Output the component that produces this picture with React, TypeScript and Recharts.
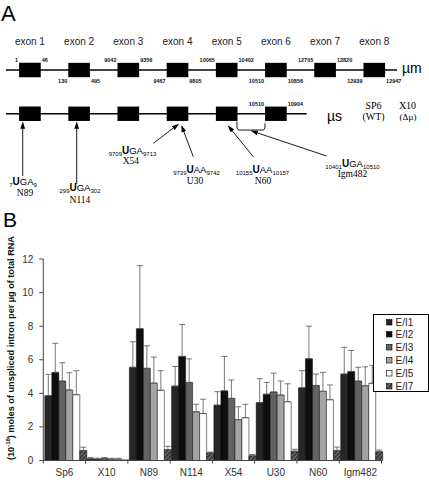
import React from 'react';
import {
  ComposedChart,
  BarChart,
  Bar,
  Line,
  Scatter,
  XAxis,
  YAxis,
  ReferenceLine,
  ReferenceArea,
  ErrorBar,
} from 'recharts';

const SANS = '"Liberation Sans", Arial, sans-serif';
const SERIF = '"Liberation Serif", "Times New Roman", serif';

// ---------- panel A: gene map ----------
const exonNames = ['exon 1', 'exon 2', 'exon 3', 'exon 4', 'exon 5', 'exon 6', 'exon 7', 'exon 8'];
const exonStarts = [1, 130, 9042, 9467, 10065, 10510, 12705, 12939];
const exonEnds = [46, 495, 9356, 9805, 10402, 10856, 12820, 12947];
const muExons = [1, 2, 3, 4, 5, 6, 7, 8];
const msExons = [1, 2, 3, 4, 5, 6];
const msExon6 = [10510, 10904];

const mutants = ['N89', 'N114', 'X54', 'U30', 'N60', 'Igm482'];
const codons = ['UGA', 'UGA', 'UGA', 'UAA', 'UAA', 'UGA'];
const codonFrom = ['7', '299', '9709', '9739', '10155', '10401'];
const codonTo = ['9', '302', '9713', '9742', '10157', '10510'];

// layout of the diagram, in exon-slot (x) / row (y) units
const EXON_HALF_W = 0.22;
const EXON_HALF_H = 0.166;
const LABEL_ROW = -0.573;
const NUM_TOP_ROW = -0.178;
const NUM_BOTTOM_ROW = 0.296;
const MS_NUM_ROW = 0.82;
const MS_ROW = 1.01;
const arrowTail = [[0.854, 2.448], [1.951, 2.633], [3.508, 1.693], [4.321, 2.002], [5.541, 2.002], [7.033, 1.986]];
const arrowHead = [[0.854, 1.212], [1.951, 1.212], [4.016, 1.254], [4.085, 1.293], [5.033, 1.293], [5.508, 1.409]];
const codonPos = [[0.86, 2.656], [2.018, 2.794], [3.085, 1.945], [4.386, 2.386], [5.728, 2.386], [7.557, 2.245]];
const namePos = [[0.9, 2.91], [2.018, 3.067], [3.051, 2.181], [4.356, 2.633], [5.738, 2.633], [7.557, 2.481]];
const bracket = [[5.209, 1.19], [5.209, 1.34], [5.24, 1.386], [5.75, 1.386], [5.778, 1.34], [5.778, 1.23]];

// ---------- panel B: bar chart ----------
const categories = ['Sp6', 'X10', 'N89', 'N114', 'X54', 'U30', 'N60', 'Igm482'];
const seriesNames = ['E/I1', 'E/I2', 'E/I3', 'E/I4', 'E/I5', 'E/I7'];
const ei1 = [3.86, 0.1, 5.55, 4.43, 3.3, 3.45, 4.33, 5.15];
const ei2 = [5.25, 0.08, 7.85, 6.2, 4.15, 3.95, 6.06, 5.3];
const ei3 = [4.73, 0.12, 5.49, 4.65, 3.7, 4.08, 4.47, 4.73];
const ei4 = [4.2, 0.08, 4.61, 2.9, 2.43, 3.9, 4.12, 4.45];
const ei5 = [3.92, 0.08, 4.18, 2.8, 2.55, 3.5, 3.62, 4.6];
const ei7 = [0.6, 0.02, 0.65, 0.45, 0.28, 0.55, 0.6, 0.52];
const ei1Err = [1.27, 0.08, 1.52, 1.17, 0.8, 1.42, 1.02, 1.59];
const ei2Err = [1.73, 0.06, 3.75, 1.9, 2.05, 0.7, 1.94, 1.25];
const ei3Err = [1.09, 0.06, 1.34, 1.4, 1.1, 1.12, 0.68, 0.82];
const ei4Err = [1.03, 0.05, 1.55, 0.45, 0.77, 0.83, 1.13, 1.13];
const ei5Err = [1.43, 0.05, 1.17, 0.85, 0.8, 1.07, 0.88, 1.07];
const ei7Err = [0.19, 0, 0.2, 0.05, 0.08, 0.12, 0.2, 0.1];
const yTicks = [0, 2, 4, 6, 8, 10, 12];

const seriesValues = [ei1, ei2, ei3, ei4, ei5, ei7];
const seriesErrors = [ei1Err, ei2Err, ei3Err, ei4Err, ei5Err, ei7Err];
const seriesFills = ['#262626', '#0e0e0e', '#626262', '#a4a4a4', '#ffffff', 'url(#hatch7)'];

const barRows = categories.map((name, i) => {
  const row: any = { name };
  seriesValues.forEach((vals, s) => {
    row[`s${s}`] = vals[i];
    row[`e${s}`] = [0, seriesErrors[s][i]];
  });
  return row;
});

const B_TOP = 225;
const B_HEIGHT = 482 - B_TOP;
const B_MARGIN = { top: 34, right: 47.5, bottom: 0, left: 0 };
const Y_AXIS_W = 43.3;
const BAND = (429 - B_MARGIN.right - Y_AXIS_W) / categories.length;

// scatter-backed text helpers
const exonLabelData = muExons.map((k, i) => ({ x: k, y: LABEL_ROW, label: exonNames[i] }));
const boundaryData = muExons.flatMap((k, i) => {
  const row = i % 2 === 0 ? NUM_TOP_ROW : NUM_BOTTOM_ROW;
  return [
    { x: k - EXON_HALF_W, y: row, label: String(exonStarts[i]), anchor: 'end' },
    { x: k + EXON_HALF_W, y: row, label: String(exonEnds[i]), anchor: 'start' },
  ];
}).concat([
  { x: 6 - EXON_HALF_W, y: MS_NUM_ROW, label: String(msExon6[0]), anchor: 'end' },
  { x: 6 + EXON_HALF_W, y: MS_NUM_ROW, label: String(msExon6[1]), anchor: 'start' },
]);
const codonData = mutants.map((m, i) => ({ x: codonPos[i][0], y: codonPos[i][1], i }));
const nameData = mutants.map((m, i) => ({ x: namePos[i][0], y: namePos[i][1], label: m }));
const sideData = [
  { x: 8.563, y: 0.069, label: 'µm', font: SANS, size: 14, anchor: 'start' },
  { x: 7.039, y: 1.178, label: 'µs', font: SANS, size: 14, anchor: 'start' },
  { x: 7.984, y: 0.889, label: 'SP6', font: SERIF, size: 10, anchor: 'middle' },
  { x: 7.984, y: 1.155, label: '(WT)', font: SERIF, size: 10, anchor: 'middle' },
  { x: 8.675, y: 0.889, label: 'X10', font: SERIF, size: 10, anchor: 'middle' },
  { x: 8.685, y: 1.165, label: '(Δµ)', font: SERIF, size: 9, anchor: 'middle' },
];

const ExonLabel = ({ cx, cy, payload }: any) => (
  <text x={cx} y={cy} textAnchor="middle" fontSize={10} fill="#222" fontFamily={SANS}>
    {payload.label}
  </text>
);

const BoundaryLabel = ({ cx, cy, payload }: any) => (
  <text
    x={cx + (payload.anchor === 'end' ? -1 : 1)}
    y={cy}
    textAnchor={payload.anchor}
    fontSize={5.5}
    fontWeight="bold"
    fill="#111"
    fontFamily={SANS}
  >
    {payload.label}
  </text>
);

const CodonLabel = ({ cx, cy, payload }: any) => {
  const i = payload.i;
  return (
    <text x={cx} y={cy} textAnchor="middle" fill="#000" fontFamily={SANS}>
      <tspan fontSize={6} dy={2}>{codonFrom[i]}</tspan>
      <tspan fontSize={10} fontWeight="bold" dy={-2}>{codons[i][0]}</tspan>
      <tspan fontSize={9.5}>{codons[i].slice(1)}</tspan>
      <tspan fontSize={6} dy={2}>{codonTo[i]}</tspan>
    </text>
  );
};

const NameLabel = ({ cx, cy, payload }: any) => (
  <text x={cx} y={cy} textAnchor="middle" fontSize={9.5} fill="#000" fontFamily={SERIF}>
    {payload.label}
  </text>
);

const SideLabel = ({ cx, cy, payload }: any) => (
  <text x={cx} y={cy} textAnchor={payload.anchor} fontSize={payload.size} fill="#000" fontFamily={payload.font}>
    {payload.label}
  </text>
);

const CategoryTick = ({ x, y, payload, index }: any) => (
  <g>
    <line x1={x - BAND / 2} x2={x - BAND / 2} y1={y} y2={y + 3} stroke="#444" />
    {index === categories.length - 1 && (
      <line x1={x + BAND / 2} x2={x + BAND / 2} y1={y} y2={y + 3} stroke="#444" />
    )}
    <text x={x} y={y + 15} textAnchor="middle" fontSize={10} fill="#333" fontFamily={SANS}>
      {payload.value}
    </text>
  </g>
);

const YTitle = () => (
  <text
    transform={`translate(11,${348 - B_TOP}) rotate(-90)`}
    textAnchor="middle"
    dominantBaseline="central"
    fontSize={9.2}
    fontWeight="bold"
    fill="#111"
    fontFamily={SANS}
    textLength={224}
    lengthAdjust="spacing"
  >
    (10<tspan fontSize={6} dy={-3}>-18</tspan>
    <tspan dy={3}>) moles of unspliced intron per µg of total RNA</tspan>
  </text>
);

export default function App() {
  return (
    <div
      style={{
        position: 'absolute',
        left: 0,
        top: 0,
        width: 429,
        height: 482,
        background: '#fff',
        overflow: 'hidden',
        fontFamily: SANS,
      }}
    >
      <svg width={0} height={0} style={{ position: 'absolute' }}>
        <defs>
          <pattern id="hatch7" patternUnits="userSpaceOnUse" width={3} height={3} patternTransform="rotate(45)">
            <rect width={3} height={3} fill="#3a3a3a" />
            <line x1={0} y1={0} x2={0} y2={3} stroke="#b4b4b4" strokeWidth={1} />
          </pattern>
          <marker
            id="arrowHead"
            viewBox="0 0 10 7"
            refX={9}
            refY={3.5}
            markerWidth={7}
            markerHeight={5}
            markerUnits="userSpaceOnUse"
            orient="auto"
          >
            <path d="M0,0 L10,3.5 L0,7 z" fill="#000" />
          </marker>
        </defs>
      </svg>

      <div style={{ position: 'absolute', left: 1, top: 3, fontSize: 22, lineHeight: '22px' }}>A</div>
      <div style={{ position: 'absolute', left: 3, top: 209, fontSize: 21, lineHeight: '21px' }}>B</div>

      {/* panel A */}
      <div style={{ position: 'absolute', left: 0, top: 0 }}>
        <ComposedChart width={429} height={215} margin={{ top: 0, right: 0, bottom: 0, left: 0 }} data={[]}>
          <XAxis type="number" dataKey="x" domain={[0.392, 9.112]} allowDataOverflow hide />
          <YAxis type="number" dataKey="y" domain={[-1.617, 3.348]} allowDataOverflow reversed hide />
          <ReferenceLine segment={[{ x: 0.514, y: 0 }, { x: 8.461, y: 0 }]} stroke="#000" strokeWidth={1.6} />
          <ReferenceLine segment={[{ x: 0.514, y: MS_ROW }, { x: 6.626, y: MS_ROW }]} stroke="#000" strokeWidth={1.6} />
          {muExons.map((k) => (
            <ReferenceArea
              key={`mu${k}`}
              x1={k - EXON_HALF_W}
              x2={k + EXON_HALF_W}
              y1={-EXON_HALF_H}
              y2={EXON_HALF_H}
              fill="#000"
              fillOpacity={1}
              stroke="none"
            />
          ))}
          {msExons.map((k) => (
            <ReferenceArea
              key={`ms${k}`}
              x1={k - EXON_HALF_W}
              x2={k + EXON_HALF_W}
              y1={MS_ROW - EXON_HALF_H}
              y2={MS_ROW + EXON_HALF_H}
              fill="#000"
              fillOpacity={1}
              stroke="none"
            />
          ))}
          <Line
            data={bracket.map(([x, y]) => ({ x, y }))}
            dataKey="y"
            type="linear"
            stroke="#000"
            strokeWidth={0.9}
            dot={false}
            activeDot={false}
            isAnimationActive={false}
          />
          {mutants.map((m, i) => (
            <Line
              key={m}
              data={[
                { x: arrowTail[i][0], y: arrowTail[i][1] },
                { x: arrowHead[i][0], y: arrowHead[i][1] },
              ]}
              dataKey="y"
              type="linear"
              stroke="#000"
              strokeWidth={0.9}
              markerEnd="url(#arrowHead)"
              dot={false}
              activeDot={false}
              isAnimationActive={false}
            />
          ))}
          <Scatter data={exonLabelData} shape={<ExonLabel />} isAnimationActive={false} />
          <Scatter data={boundaryData} shape={<BoundaryLabel />} isAnimationActive={false} />
          <Scatter data={codonData} shape={<CodonLabel />} isAnimationActive={false} />
          <Scatter data={nameData} shape={<NameLabel />} isAnimationActive={false} />
          <Scatter data={sideData} shape={<SideLabel />} isAnimationActive={false} />
        </ComposedChart>
      </div>

      {/* panel B */}
      <div style={{ position: 'absolute', left: 0, top: B_TOP }}>
        <BarChart width={429} height={B_HEIGHT} data={barRows} margin={B_MARGIN} barCategoryGap={1.5} barGap={0}>
          <XAxis
            dataKey="name"
            tick={<CategoryTick />}
            tickLine={false}
            tickSize={0}
            tickMargin={0}
            axisLine={{ stroke: '#444' }}
            height={B_HEIGHT - B_MARGIN.top - 201.5}
            interval={0}
          />
          <YAxis
            width={Y_AXIS_W}
            domain={[0, 12]}
            ticks={yTicks}
            tickSize={4}
            tickMargin={6}
            tick={{ fontSize: 10, fill: '#333', fontFamily: SANS }}
            tickLine={{ stroke: '#444' }}
            axisLine={{ stroke: '#444' }}
            label={<YTitle />}
          />
          {seriesNames.map((name, s) => (
            <Bar
              key={name}
              dataKey={`s${s}`}
              name={name}
              fill={seriesFills[s]}
              stroke="#000"
              strokeWidth={0.5}
              isAnimationActive={false}
            >
              <ErrorBar dataKey={`e${s}`} width={3} stroke="#555" strokeWidth={0.8} direction="y" />
            </Bar>
          ))}
        </BarChart>
      </div>

      {/* legend */}
      <div
        style={{
          position: 'absolute',
          left: 372.5,
          top: 314,
          width: 54.5,
          height: 76,
          border: '1px solid #000',
          background: '#fff',
        }}
      >
        {seriesNames.map((name, s) => (
          <div
            key={name}
            style={{
              position: 'absolute',
              left: 12,
              top: 1 + s * 12.9,
              height: 12,
              display: 'flex',
              alignItems: 'center',
              fontSize: 10,
              color: '#222',
            }}
          >
            <svg width={7} height={7} style={{ marginRight: 3 }}>
              <rect x={0.5} y={0.5} width={5.5} height={5.5} fill={seriesFills[s]} stroke="#000" strokeWidth={0.6} />
            </svg>
            {name}
          </div>
        ))}
      </div>
    </div>
  );
}
